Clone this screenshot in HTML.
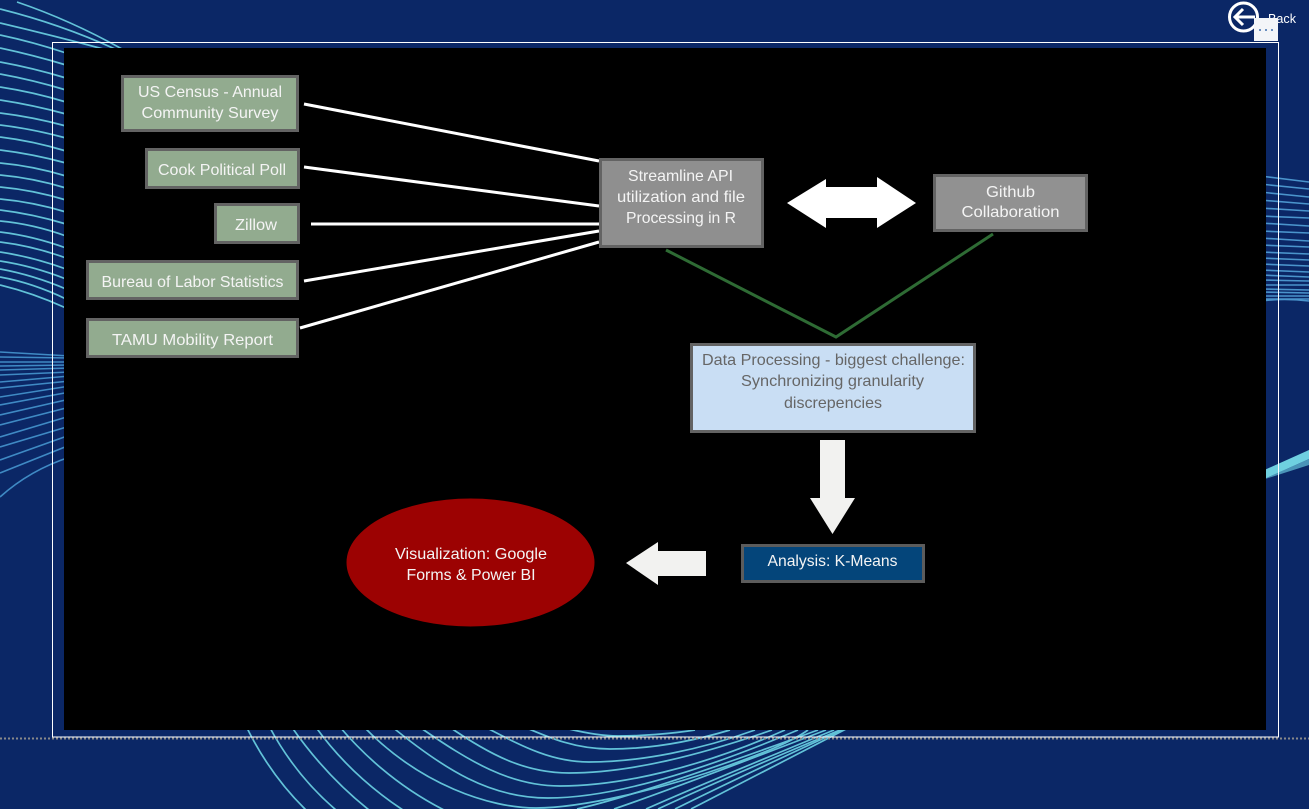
<!DOCTYPE html>
<html><head><meta charset="utf-8"><style>
html,body{margin:0;padding:0;background:#0b2766;width:1309px;height:809px;overflow:hidden}
svg{display:block}
text{font-family:"Liberation Sans",sans-serif;font-size:16px;fill:#f4f4f4;text-anchor:middle}
</style></head><body>
<svg width="1309" height="809" viewBox="0 0 1309 809" xmlns="http://www.w3.org/2000/svg">
<rect width="1309" height="809" fill="#0b2766"/>
<g fill="none" stroke="#62c2d8" stroke-width="1.7">
<path d="M17 2Q70 20 122 49"/><path d="M0 9Q60 24 115 49"/><path d="M0 23Q55 36 107 50"/>
<path d="M0 35Q33 42 66 53"/><path d="M0 48Q33 55 66 65"/><path d="M0 62Q33 68 66 78"/>
<path d="M0 74Q33 80 66 90"/><path d="M0 87Q33 92 66 102"/><path d="M0 100Q33 105 66 114"/>
<path d="M0 113Q33 117 66 126"/><path d="M0 125Q33 129 66 138"/><path d="M0 137Q33 141 66 151"/>
<path d="M0 150Q33 154 66 163"/><path d="M0 163Q33 166 66 176"/><path d="M0 175Q33 178 66 188"/>
<path d="M0 187Q33 190 66 200"/><path d="M0 199Q33 202 66 212"/><path d="M0 210Q33 214 66 224"/>
<path d="M0 221Q33 224 66 236"/><path d="M0 232Q33 236 66 248"/><path d="M0 242Q33 246 66 258"/>
<path d="M0 252Q33 257 66 269"/><path d="M0 261Q33 266 66 279"/><path d="M0 269Q33 275 66 289"/>
<path d="M0 277Q33 283 66 299"/><path d="M0 285Q33 293 66 308"/>
</g>
<g fill="none" stroke="#3f8ac4" stroke-width="1.6">
<path d="M0 352L70 356"/><path d="M0 357L70 358"/><path d="M0 362L70 362"/><path d="M0 366L70 365"/>
<path d="M0 370L70 368"/><path d="M0 375L70 372"/><path d="M0 382L70 376"/><path d="M0 388L70 381"/>
<path d="M0 397L70 386"/><path d="M0 405L70 392"/><path d="M0 415L70 399"/><path d="M0 425L70 407"/>
<path d="M0 437L70 416"/><path d="M0 447L70 426"/><path d="M0 460L70 435"/><path d="M0 473L70 445"/>
<path d="M0 497Q30 470 70 457"/>
</g>
<g fill="none" stroke="#4a94cc" stroke-width="1.6">
<path d="M1260 176L1309 182"/><path d="M1260 184L1309 189"/><path d="M1260 192L1309 197"/><path d="M1260 200L1309 204"/>
<path d="M1260 208L1309 211"/><path d="M1260 216L1309 218"/><path d="M1260 223L1309 226"/><path d="M1260 231L1309 233"/>
<path d="M1260 238L1309 241"/><path d="M1260 245L1309 247"/><path d="M1260 252L1309 254"/><path d="M1260 258L1309 260"/>
<path d="M1260 264L1309 266"/><path d="M1260 270L1309 272"/><path d="M1260 275L1309 277"/><path d="M1260 280L1309 281"/>
<path d="M1260 285L1309 285"/><path d="M1260 289L1309 290"/><path d="M1260 292L1309 293"/><path d="M1260 296L1309 296"/>
<path d="M1260 299L1309 299"/><path d="M1260 301Q1285 298 1309 301"/>
</g>
<polygon points="1260,472 1309,450 1309,459 1260,481" fill="#6fd0e0"/>
<polygon points="1262,480 1309,459 1309,465" fill="#4a94b8"/>
<g fill="none" stroke="#62c2d8" stroke-width="1.7">
<path d="M246 726Q270 775 306 810"/><path d="M269 726Q295 775 336 810"/><path d="M291 726Q325 775 369 810"/>
<path d="M315 726Q350 775 403 810"/><path d="M339 726Q385 780 444 810"/>
<path d="M363 726C420 785 490 808 536 808C580 808 660 790 730 765C760 754 790 743 808 730"/>
<path d="M391 726C445 770 490 798 548 798C600 798 680 780 798 730"/>
<path d="M418 726C470 762 510 786 560 786C620 786 700 768 785 730"/>
<path d="M448 726C490 755 525 773 569 773C630 773 700 755 772 730"/>
<path d="M483 726C520 745 550 762 589 762C640 762 700 750 755 730"/>
<path d="M522 726C550 738 575 749 610 749C650 749 690 742 730 730"/>
<path d="M569 729C590 734 605 736 618 736C640 736 670 734 695 730"/>
<path d="M577 809Q640 795 818 730"/><path d="M614 809Q670 790 826 730"/><path d="M646 809Q700 785 834 730"/>
<path d="M658 809Q720 780 840 730"/><path d="M675 809Q750 772 846 728"/><path d="M691 809L848 728"/>
</g>
<line x1="0" y1="738.5" x2="1309" y2="738.5" stroke="#8a8a8a" stroke-width="2" stroke-dasharray="2 2"/>
<rect x="64" y="48" width="1202" height="682" fill="#000"/>
<rect x="52.5" y="42.5" width="1226" height="694.5" fill="none" stroke="#fff" stroke-width="1"/>

<g stroke="#fff" stroke-width="3" fill="none">
<line x1="304" y1="104" x2="599" y2="161"/><line x1="304" y1="167" x2="599" y2="206"/>
<line x1="311" y1="224" x2="599" y2="224"/><line x1="304" y1="281" x2="599" y2="231"/>
<line x1="300" y1="328" x2="599" y2="242"/>
</g>
<polyline points="666,250 836,337 993,234" fill="none" stroke="#2e6b34" stroke-width="3"/>

<g fill="#92ab8f" stroke="#636363" stroke-width="3">
<rect x="122.5" y="76.5" width="175" height="54"/><rect x="146.5" y="149.5" width="152" height="38"/>
<rect x="215.5" y="204.5" width="83" height="38"/><rect x="87.5" y="261.5" width="210" height="37"/>
<rect x="87.5" y="319.5" width="210" height="37"/>
</g>
<rect x="600.5" y="159.5" width="162" height="87" fill="#8f8f8f" stroke="#636363" stroke-width="3"/>
<rect x="934.5" y="175.5" width="152" height="55" fill="#919191" stroke="#636363" stroke-width="3"/>
<rect x="691.5" y="344.5" width="283" height="87" fill="#c9def4" stroke="#636363" stroke-width="3"/>
<rect x="742.5" y="545.5" width="181" height="36" fill="#04457a" stroke="#5c5c5c" stroke-width="3"/>
<ellipse cx="470.5" cy="562.5" rx="124" ry="64" fill="#9c0202"/>

<polygon points="787,203 826,179 826,187 877,187 877,177 916,203 877,228 877,218 826,218 826,228" fill="#fff"/>
<polygon points="820,440 845,440 845,498 855,498 832.5,534 810,498 820,498" fill="#f2f2f0"/>
<polygon points="626,563 658,542 658,551 706,551 706,576 658,576 658,585" fill="#f2f2f0"/>

<text x="210" y="97" textLength="144" lengthAdjust="spacingAndGlyphs">US Census - Annual</text>
<text x="210" y="118" textLength="137" lengthAdjust="spacingAndGlyphs">Community Survey</text>
<text x="222" y="175" textLength="128" lengthAdjust="spacingAndGlyphs">Cook Political Poll</text>
<text x="256" y="230" textLength="42" lengthAdjust="spacingAndGlyphs">Zillow</text>
<text x="192.5" y="287" textLength="182" lengthAdjust="spacingAndGlyphs">Bureau of Labor Statistics</text>
<text x="192.5" y="345" textLength="161" lengthAdjust="spacingAndGlyphs">TAMU Mobility Report</text>
<text x="680.5" y="181" textLength="105" lengthAdjust="spacingAndGlyphs">Streamline API</text>
<text x="681" y="202" textLength="128" lengthAdjust="spacingAndGlyphs">utilization and file</text>
<text x="681" y="223" textLength="110" lengthAdjust="spacingAndGlyphs">Processing in R</text>
<text x="1010.5" y="197" textLength="49" lengthAdjust="spacingAndGlyphs">Github</text>
<text x="1010.5" y="217" textLength="98" lengthAdjust="spacingAndGlyphs">Collaboration</text>
<text x="833.5" y="365" textLength="263" lengthAdjust="spacingAndGlyphs" style="fill:#666">Data Processing - biggest challenge:</text>
<text x="832.5" y="386" textLength="183" lengthAdjust="spacingAndGlyphs" style="fill:#666">Synchronizing granularity</text>
<text x="833" y="408" textLength="98" lengthAdjust="spacingAndGlyphs" style="fill:#666">discrepencies</text>
<text x="832.5" y="566" textLength="130" lengthAdjust="spacingAndGlyphs">Analysis: K-Means</text>
<text x="471" y="559" textLength="152" lengthAdjust="spacingAndGlyphs">Visualization: Google</text>
<text x="471" y="580" textLength="129" lengthAdjust="spacingAndGlyphs">Forms &amp; Power BI</text>

<circle cx="1243.5" cy="17" r="14" fill="#0b2766" stroke="#fff" stroke-width="3"/>
<path d="M1235 17H1255M1243 9L1235 17L1243 25" fill="none" stroke="#fff" stroke-width="3"/>
<text x="1282" y="23" textLength="28" lengthAdjust="spacingAndGlyphs" style="font-size:12.5px;fill:#fff">Back</text>
<rect x="1254" y="18" width="24" height="23" fill="#f3f5f8"/>
<g fill="#6a8fc0"><rect x="1259" y="29" width="2" height="2"/><rect x="1265" y="29" width="2" height="2"/><rect x="1271" y="29" width="2" height="2"/></g>
</svg>
</body></html>
